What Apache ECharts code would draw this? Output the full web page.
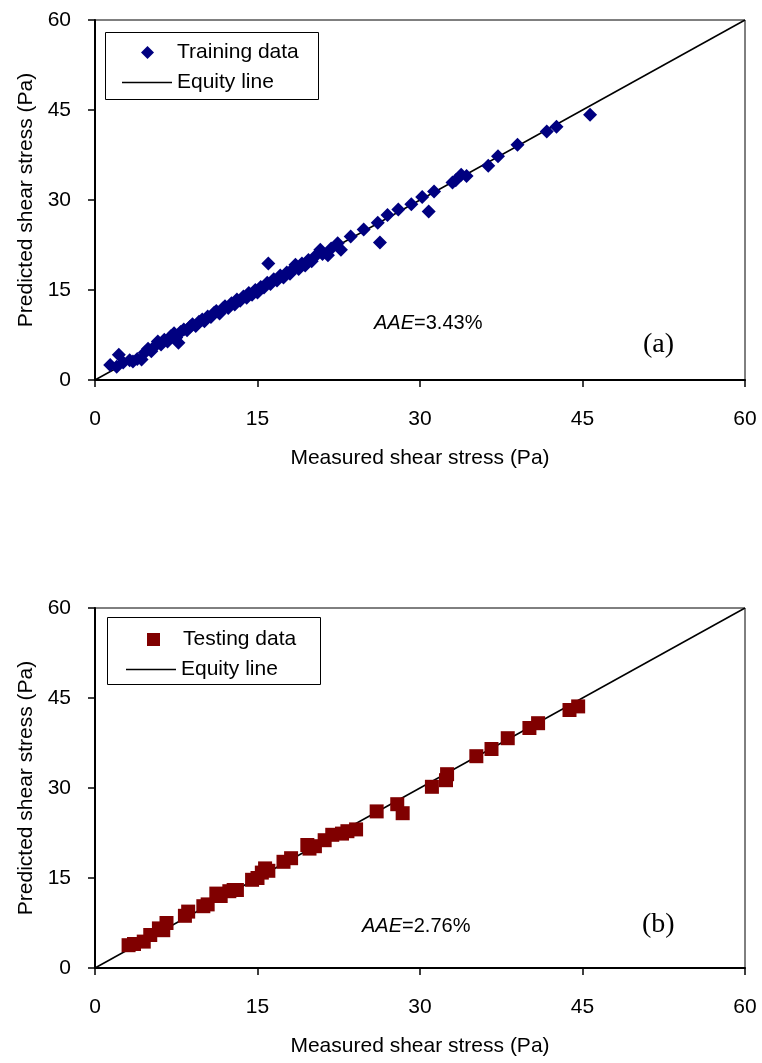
<!DOCTYPE html>
<html>
<head>
<meta charset="utf-8">
<script src="https://cdn.jsdelivr.net/npm/echarts@6/dist/echarts.min.js"></script>
<style>
	html, body { margin: 0; padding: 0; background: #fff; }
	#chart { width: 762px; height: 1063px; }
</style>
</head>
<body>
<div id="chart"></div>
<script>
// 训练数据 (a)
const trainMeasured = [1.4, 2.0, 2.2, 2.6, 3.2, 3.5, 3.9, 4.3, 4.6, 4.9, 5.2, 5.5, 5.8, 6.1, 6.4, 6.7, 7.0, 7.3, 7.5, 7.7, 7.9, 8.2, 8.5, 8.8, 9.0, 9.3, 9.6, 9.9, 10.1, 10.4, 10.7, 11.0, 11.2, 11.5, 11.8, 12.0, 12.3, 12.6, 12.9, 13.1, 13.4, 13.7, 14.0, 14.2, 14.5, 14.8, 15.0, 15.3, 15.6, 15.9, 16.0, 16.2, 16.5, 16.8, 17.1, 17.4, 17.7, 18.0, 18.3, 18.5, 18.8, 19.1, 19.4, 19.7, 20.0, 20.3, 20.8, 21.0, 21.5, 21.8, 22.4, 22.7, 23.6, 24.8, 26.1, 26.3, 27.0, 28.0, 29.2, 30.2, 30.8, 31.3, 33.0, 33.3, 33.8, 34.3, 36.3, 37.2, 39.0, 41.7, 42.6, 45.7];
const trainPredicted = [2.5, 2.2, 4.2, 2.9, 3.3, 3.1, 3.5, 3.4, 4.6, 5.2, 4.8, 5.6, 6.4, 5.9, 6.7, 6.4, 7.3, 7.8, 7.1, 6.2, 8.0, 8.4, 8.3, 8.9, 9.3, 9.0, 9.7, 10.1, 9.8, 10.6, 10.5, 11.2, 11.5, 11.1, 11.9, 12.3, 12.0, 12.8, 12.6, 13.4, 13.2, 13.9, 13.7, 14.5, 14.2, 15.0, 14.6, 15.5, 15.4, 16.2, 19.4, 16.0, 16.8, 16.6, 17.4, 17.1, 17.9, 17.7, 18.6, 19.2, 18.5, 19.4, 19.1, 20.0, 19.8, 20.6, 21.7, 21.0, 20.8, 21.9, 22.8, 21.7, 23.9, 25.1, 26.2, 22.9, 27.5, 28.4, 29.3, 30.5, 28.1, 31.4, 32.9, 33.3, 34.2, 34.0, 35.7, 37.3, 39.2, 41.4, 42.2, 44.2];

// 测试数据 (b)
const testMeasured = [3.1, 3.6, 4.5, 5.1, 5.9, 6.3, 6.6, 8.3, 8.6, 10.0, 10.4, 11.2, 11.6, 12.4, 12.8, 13.1, 14.5, 15.0, 15.4, 15.7, 16.0, 17.4, 18.1, 19.6, 19.8, 20.3, 21.2, 21.9, 22.8, 23.3, 24.1, 26.0, 27.9, 28.4, 31.1, 32.4, 32.5, 35.2, 36.6, 38.1, 40.1, 40.9, 43.8, 44.6];
const testPredicted = [3.8, 4.0, 4.4, 5.5, 6.6, 6.3, 7.5, 8.7, 9.4, 10.3, 10.6, 12.4, 12.0, 12.8, 13.0, 13.0, 14.7, 15.0, 15.9, 16.6, 16.2, 17.7, 18.3, 20.5, 19.9, 20.3, 21.3, 22.2, 22.4, 22.8, 23.1, 26.1, 27.3, 25.8, 30.2, 31.3, 32.3, 35.3, 36.5, 38.3, 40.0, 40.8, 43.0, 43.6];

// 等值线
const equityLine = [[0, 0], [60, 60]];

// 坐标刻度
const axisMin = 0;
const axisMax = 60;
const axisStep = 15;

const zip = (xs, ys) => xs.map((x, i) => [x, ys[i]]);

const fontFamily = "'Liberation Sans', Arial, sans-serif";
const serifFamily = "'Liberation Serif', 'Times New Roman', serif";

// 通用坐标轴样式
const commonAxis = {
	min: axisMin,
	max: axisMax,
	interval: axisStep,
	axisLine: {
		show: true,
		onZero: false,
		lineStyle: { color: '#000', width: 2 }
	},
	axisTick: {
		show: true,
		inside: false,
		length: 7,
		lineStyle: { color: '#000', width: 1.5 }
	},
	axisLabel: {
		color: '#000',
		fontSize: 21,
		fontFamily: fontFamily
	},
	splitLine: { show: false },
	nameLocation: 'middle',
	nameTextStyle: {
		color: '#000',
		fontSize: 21,
		fontFamily: fontFamily
	}
};

const createXAxis = (gridIndex) => ({
	...commonAxis,
	type: 'value',
	gridIndex,
	name: 'Measured shear stress (Pa)',
	nameGap: 68,
	axisLabel: { ...commonAxis.axisLabel, margin: 29 }
});

const createYAxis = (gridIndex) => ({
	...commonAxis,
	type: 'value',
	gridIndex,
	name: 'Predicted shear stress (Pa)',
	nameGap: 58,
	axisLabel: { ...commonAxis.axisLabel, margin: 24 }
});

// 图例：散点 + 等值线
const createLegends = (top, scatterName, scatterIcon, scatterLeft, lineLeft) => ([
	{
		data: [{ name: scatterName, icon: scatterIcon }],
		left: scatterLeft,
		top: top,
		itemWidth: 13,
		itemHeight: 13,
		padding: 0,
		selectedMode: false,
		textStyle: { color: '#000', fontSize: 21, fontFamily: fontFamily, padding: [0, 0, 0, 18] }
	},
	{
		data: [{ name: 'Equity line', icon: 'rect', itemStyle: { color: '#000' } }],
		left: lineLeft,
		top: top + 30,
		itemWidth: 50,
		itemHeight: 1.5,
		padding: 0,
		selectedMode: false,
		textStyle: { color: '#000', fontSize: 21, fontFamily: fontFamily }
	}
]);

const chart = echarts.init(document.getElementById('chart'));

const option = {
	backgroundColor: '#fff',
	animation: false,
	grid: [
		{ left: 95, top: 20, width: 650, height: 360, show: true, borderColor: '#000', borderWidth: 1, backgroundColor: 'transparent' },
		{ left: 95, top: 608, width: 650, height: 360, show: true, borderColor: '#000', borderWidth: 1, backgroundColor: 'transparent' }
	],
	xAxis: [createXAxis(0), createXAxis(1)],
	yAxis: [createYAxis(0), createYAxis(1)],
	legend: [
		...createLegends(42, 'Training data', 'diamond', 141, 122),
		...createLegends(629, 'Testing data', 'rect', 147, 126)
	],
	graphic: [
		{ type: 'rect', shape: { x: 105.5, y: 32.5, width: 213, height: 67 }, style: { fill: 'none', stroke: '#000', lineWidth: 1 }, z: 1 },
		{ type: 'rect', shape: { x: 107.5, y: 617.5, width: 213, height: 67 }, style: { fill: 'none', stroke: '#000', lineWidth: 1 }, z: 1 },
		{
			type: 'text', left: 374, top: 313,
			style: {
				text: '{i|AAE}=3.43%', fill: '#000', fontSize: 20, fontFamily: fontFamily,
				rich: { i: { fontStyle: 'italic', fontSize: 20, fontFamily: fontFamily } }
			}
		},
		{
			type: 'text', left: 643, top: 331,
			style: { text: '(a)', fill: '#000', fontSize: 28, fontFamily: serifFamily }
		},
		{
			type: 'text', left: 362, top: 916,
			style: {
				text: '{i|AAE}=2.76%', fill: '#000', fontSize: 20, fontFamily: fontFamily,
				rich: { i: { fontStyle: 'italic', fontSize: 20, fontFamily: fontFamily } }
			}
		},
		{
			type: 'text', left: 642, top: 911,
			style: { text: '(b)', fill: '#000', fontSize: 28, fontFamily: serifFamily }
		}
	],
	series: [
		{
			name: 'Equity line',
			type: 'line',
			xAxisIndex: 0,
			yAxisIndex: 0,
			data: equityLine,
			symbol: 'none',
			lineStyle: { color: '#000', width: 1.5 },
			itemStyle: { color: '#000' },
			z: 1
		},
		{
			name: 'Training data',
			type: 'scatter',
			xAxisIndex: 0,
			yAxisIndex: 0,
			symbol: 'diamond',
			symbolSize: 14,
			itemStyle: { color: '#000080', opacity: 1 },
			data: zip(trainMeasured, trainPredicted),
			z: 2
		},
		{
			name: 'Equity line',
			type: 'line',
			xAxisIndex: 1,
			yAxisIndex: 1,
			data: equityLine,
			symbol: 'none',
			lineStyle: { color: '#000', width: 1.5 },
			itemStyle: { color: '#000' },
			z: 1
		},
		{
			name: 'Testing data',
			type: 'scatter',
			xAxisIndex: 1,
			yAxisIndex: 1,
			symbol: 'rect',
			symbolSize: 14,
			itemStyle: { color: '#800000', opacity: 1 },
			data: zip(testMeasured, testPredicted),
			z: 2
		}
	]
};

chart.setOption(option);
</script>
</body>
</html>
